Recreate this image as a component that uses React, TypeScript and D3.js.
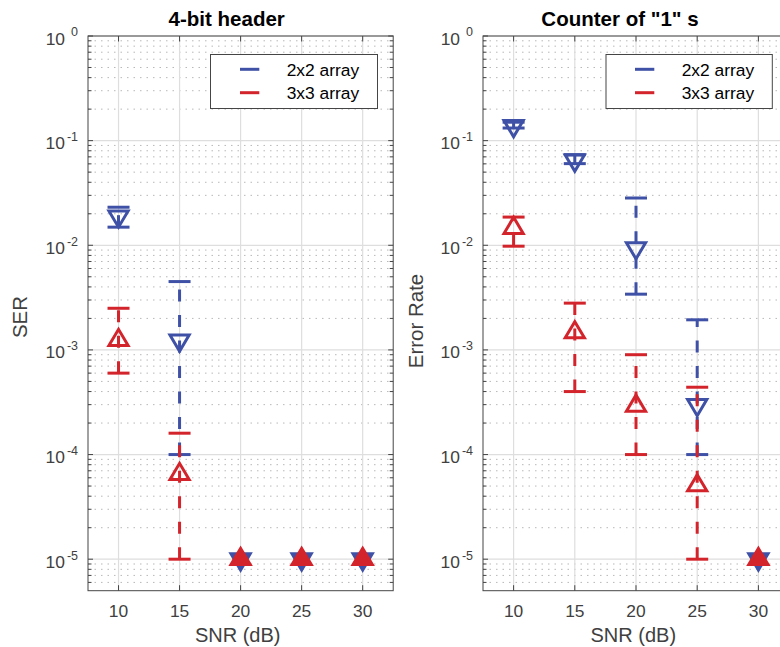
import React from 'react';
import * as d3 from 'd3';

// ---------- data ----------
const snr = [10, 15, 20, 25, 30];
const xTicks = [10, 15, 20, 25, 30];
const yDecades = [-5, -4, -3, -2, -1, 0];
const seriesNames = ['2x2 array', '3x3 array'];

// 4-bit header (SER)
const header2x2 = [0.0189, 1.23e-3, 1e-5, 1e-5, 1e-5];
const header2x2Lo = [0.0149, 1e-4, 1e-5, 1e-5, 1e-5];
const header2x2Hi = [0.0231, 4.5e-3, 1e-5, 1e-5, 1e-5];
const header3x3 = [1.24e-3, 6.5e-5, 1e-5, 1e-5, 1e-5];
const header3x3Lo = [6e-4, 1e-5, 1e-5, 1e-5, 1e-5];
const header3x3Hi = [2.5e-3, 1.6e-4, 1e-5, 1e-5, 1e-5];

// Counter of "1"s (Error Rate)
const counter2x2 = [0.138, 0.0647, 9.4e-3, 2.98e-4, 1e-5];
const counter2x2Lo = [0.132, 0.0603, 3.41e-3, 1e-4, 1e-5];
const counter2x2Hi = [0.15, 0.0735, 0.0283, 1.94e-3, 1e-5];
const counter3x3 = [0.0146, 1.47e-3, 2.92e-4, 5.07e-5, 1e-5];
const counter3x3Lo = [9.8e-3, 4e-4, 1e-4, 1e-5, 1e-5];
const counter3x3Hi = [0.0186, 2.8e-3, 9e-4, 4.4e-4, 1e-5];

const BLUE = '#3f51a6';
const RED = '#d3242c';
const FONT = '"Liberation Sans", Arial, Helvetica, sans-serif';
const AXIS = '#454545';
const TXT = '#404040';

const W = 780;
const H = 647;
const TOP = 36;
const BOTTOM = 590.7;

type Series = { name: string; color: string; kind: 'down' | 'up'; v: number[]; lo: number[]; hi: number[] };

function tri(kind: 'down' | 'up', cx: number, cy: number) {
  const w = 9.6;
  const h = 16.2;
  if (kind === 'down') {
    return `M${cx - w},${cy - h / 3}L${cx + w},${cy - h / 3}L${cx},${cy + (2 * h) / 3}Z`;
  }
  return `M${cx - w},${cy + h / 3}L${cx + w},${cy + h / 3}L${cx},${cy - (2 * h) / 3}Z`;
}

function Panel(props: {
  left: number;
  right: number;
  title: string;
  titleX: number;
  ylabel: string;
  ylabelX: number;
  ylabelY: number;
  xlabelX: number;
  legendX: number;
  legendW: number;
  legendLineX: number;
  legendTextX: number;
  series: Series[];
}) {
  const { left, right } = props;
  const x = d3.scaleLinear().domain([7.5, 32.5]).range([left, right]);
  const y = d3.scaleLog().domain([5e-6, 1]).range([BOTTOM, TOP]);

  const minors: number[] = [];
  for (let d = -6; d <= -1; d++) {
    for (let k = 2; k <= 9; k++) {
      const v = k * Math.pow(10, d);
      if (v > 5e-6 && v < 1) minors.push(v);
    }
  }
  const majors = yDecades.map((d) => Math.pow(10, d));

  return (
    <g>
      {/* minor grid */}
      {minors.map((v, i) => (
        <line key={'mg' + i} x1={left} x2={right} y1={y(v)} y2={y(v)} stroke="#b8b8b8" strokeWidth={1} strokeDasharray="1.5 5" />
      ))}
      {/* major grid */}
      {majors.map((v, i) => (
        <line key={'Mg' + i} x1={left} x2={right} y1={y(v)} y2={y(v)} stroke="#dedede" strokeWidth={1.2} />
      ))}
      {xTicks.map((t, i) => (
        <line key={'xg' + i} x1={x(t)} x2={x(t)} y1={TOP} y2={BOTTOM} stroke="#dedede" strokeWidth={1.2} />
      ))}

      {/* data */}
      {props.series.map((s, si) => (
        <g key={'s' + si}>
          {snr.map((xv, i) => {
            const cx = x(xv);
            const yl = y(s.lo[i]);
            const yh = y(s.hi[i]);
            const hasBar = s.hi[i] > s.lo[i];
            const filled = s.v[i] <= 1e-5;
            return (
              <g key={'p' + i}>
                {hasBar && (
                  <g>
                    <line x1={cx} x2={cx} y1={yl} y2={yh} stroke={s.color} strokeWidth={3} strokeDasharray="12 13.5" />
                    <line x1={cx - 11} x2={cx + 11} y1={yl} y2={yl} stroke={s.color} strokeWidth={3} />
                    <line x1={cx - 11} x2={cx + 11} y1={yh} y2={yh} stroke={s.color} strokeWidth={3} />
                  </g>
                )}
                <path
                  d={tri(s.kind, cx, y(s.v[i]))}
                  fill={filled ? s.color : 'none'}
                  stroke={s.color}
                  strokeWidth={3}
                  strokeLinejoin="miter"
                />
              </g>
            );
          })}
        </g>
      ))}

      {/* axes box */}
      <rect x={left} y={TOP} width={right - left} height={BOTTOM - TOP} fill="none" stroke={AXIS} strokeWidth={1} />
      {/* y ticks */}
      {majors.map((v, i) => (
        <g key={'yt' + i}>
          <line x1={left} x2={left + 5} y1={y(v)} y2={y(v)} stroke={AXIS} />
          <line x1={right} x2={right - 5} y1={y(v)} y2={y(v)} stroke={AXIS} />
        </g>
      ))}
      {minors.map((v, i) => (
        <g key={'ymt' + i}>
          <line x1={left} x2={left + 3.5} y1={y(v)} y2={y(v)} stroke={AXIS} />
          <line x1={right} x2={right - 3.5} y1={y(v)} y2={y(v)} stroke={AXIS} />
        </g>
      ))}
      {/* x ticks */}
      {xTicks.map((t, i) => (
        <g key={'xt' + i}>
          <line x1={x(t)} x2={x(t)} y1={BOTTOM} y2={BOTTOM - 5.5} stroke={AXIS} />
          <line x1={x(t)} x2={x(t)} y1={TOP} y2={TOP + 5.5} stroke={AXIS} />
          <text x={x(t)} y={616.7} textAnchor="middle" fontSize={17.4} fill={TXT} fontFamily={FONT}>
            {t}
          </text>
        </g>
      ))}
      {/* y tick labels */}
      {yDecades.map((d, i) => (
        <text key={'yl' + i} x={left - 10} y={y(Math.pow(10, d)) + 8.5} textAnchor="end" fontSize={17.4} fill={TXT} fontFamily={FONT}>
          10
          <tspan dx={d === 0 ? 6 : 2} dy={-8.2} fontSize={12.5}>
            {String(d)}
          </tspan>
        </text>
      ))}

      {/* title */}
      <text x={props.titleX} y={26} textAnchor="middle" fontSize={20.5} fontWeight="bold" fill="#000" fontFamily={FONT}>
        {props.title}
      </text>
      {/* x label */}
      <text x={props.xlabelX} y={641.5} textAnchor="middle" fontSize={20} fill={TXT} fontFamily={FONT}>
        SNR (dB)
      </text>
      {/* y label */}
      <text
        transform={`translate(${props.ylabelX},${props.ylabelY}) rotate(-90)`}
        textAnchor="middle"
        fontSize={20.5}
        fill={TXT}
        fontFamily={FONT}
      >
        {props.ylabel}
      </text>

      {/* legend */}
      <rect x={props.legendX} y={54.5} width={props.legendW} height={54} fill="#fff" stroke={AXIS} strokeWidth={1} />
      {props.series.map((s, i) => {
        const ly = i === 0 ? 69.3 : 92.7;
        return (
          <g key={'lg' + i}>
            <line x1={props.legendLineX} x2={props.legendLineX + 19.3} y1={ly} y2={ly} stroke={s.color} strokeWidth={3} />
            <text x={props.legendTextX} y={ly + 6.4} fontSize={17.4} fill="#000" fontFamily={FONT}>
              {s.name}
            </text>
          </g>
        );
      })}
    </g>
  );
}

export default function App() {
  const headerSeries: Series[] = [
    { name: seriesNames[0], color: BLUE, kind: 'down', v: header2x2, lo: header2x2Lo, hi: header2x2Hi },
    { name: seriesNames[1], color: RED, kind: 'up', v: header3x3, lo: header3x3Lo, hi: header3x3Hi },
  ];
  const counterSeries: Series[] = [
    { name: seriesNames[0], color: BLUE, kind: 'down', v: counter2x2, lo: counter2x2Lo, hi: counter2x2Hi },
    { name: seriesNames[1], color: RED, kind: 'up', v: counter3x3, lo: counter3x3Lo, hi: counter3x3Hi },
  ];
  return (
    <svg
      width={W}
      height={H}
      viewBox={`0 0 ${W} ${H}`}
      style={{ position: 'absolute', left: 0, top: 0, background: '#fff', display: 'block' }}
    >
      <rect x={0} y={0} width={W} height={H} fill="#fff" />
      <Panel
        left={88}
        right={393.2}
        title="4-bit header"
        titleX={226.7}
        ylabel="SER"
        ylabelX={27}
        ylabelY={317}
        xlabelX={237.7}
        legendX={210.5}
        legendW={167}
        legendLineX={240}
        legendTextX={286.7}
        series={headerSeries}
      />
      <Panel
        left={483}
        right={789}
        title={'Counter of "1" s'}
        titleX={620}
        ylabel="Error Rate"
        ylabelX={423}
        ylabelY={321}
        xlabelX={633.3}
        legendX={606}
        legendW={166.3}
        legendLineX={635}
        legendTextX={681.7}
        series={counterSeries}
      />
    </svg>
  );
}
